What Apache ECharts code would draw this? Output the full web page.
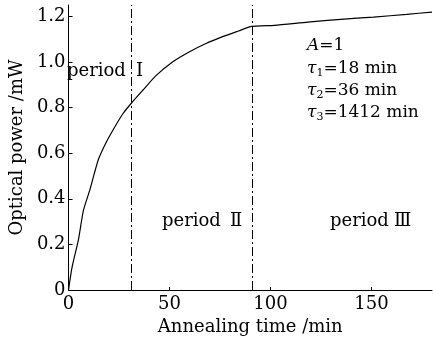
<!DOCTYPE html>
<html>
<head>
<meta charset="utf-8">
<script src="https://cdn.jsdelivr.net/npm/echarts@6/dist/echarts.min.js"></script>
<style>
  html, body { margin:0; padding:0; background:#fff; }
  #chart { width:433px; height:341px; }
</style>
</head>
<body>
<div id="chart"></div>
<script>
// 读图得到的曲线点（退火时间 /min，光功率 /mW）
const times = [0, 1.5, 2.5, 4.9, 7.4, 10.6, 14.7, 18.8, 22.9, 27, 31, 36.8, 43.3, 51.5, 59.7, 67.8, 76, 84.2, 90.7, 102, 118.5, 134.8, 151, 167.5, 180];
const power = [0, 0.088, 0.13, 0.22, 0.35, 0.44, 0.57, 0.65, 0.715, 0.774, 0.818, 0.876, 0.94, 1.0, 1.044, 1.08, 1.11, 1.136, 1.156, 1.161, 1.175, 1.187, 1.197, 1.209, 1.219];
const periodBounds = [31, 91];
const xTicks = [0, 50, 100, 150];
const yTicks = [0, 0.2, 0.4, 0.6, 0.8, 1.0, 1.2];

const FONT = '"DejaVu Serif", serif';
const chart = echarts.init(document.getElementById('chart'), null, { renderer: 'canvas' });

const rich = {
  i: { fontFamily: FONT, fontSize: 17, fontStyle: 'italic', color: '#000', lineHeight: 22 },
  n: { fontFamily: FONT, fontSize: 17, color: '#000', lineHeight: 22 },
  s: { fontFamily: FONT, fontSize: 11, color: '#000', lineHeight: 22, padding: [9, 0, 0, 0] }
};

// 区间标注文字
function label(text, x, y) {
  return { type: 'text', x, y, style: { text, font: '18px ' + FONT, fill: '#000', verticalAlign: 'middle' } };
}

const option = {
  animation: false,
  grid: { left: 65, right: 1, top: 5, bottom: 51 },
  xAxis: {
    type: 'value', min: 0, max: 180,
    name: 'Annealing time /min', nameLocation: 'middle', nameGap: 28,
    nameTextStyle: { fontFamily: FONT, fontSize: 18, color: '#000' },
    axisLine: { lineStyle: { color: '#000', width: 1 } },
    axisTick: { inside: true, length: 3, customValues: xTicks, lineStyle: { color: '#000' } },
    axisLabel: { customValues: xTicks, fontFamily: FONT, fontSize: 18, color: '#000', margin: 5 },
    splitLine: { show: false }
  },
  yAxis: {
    type: 'value', min: 0, max: 1.25,
    name: 'Optical power /mW', nameLocation: 'middle', nameGap: 42,
    nameTextStyle: { fontFamily: FONT, fontSize: 18, color: '#000' },
    axisLine: { show: true, lineStyle: { color: '#000', width: 1 } },
    axisTick: { show: true, inside: true, length: 4, customValues: yTicks, lineStyle: { color: '#000' } },
    axisLabel: {
      customValues: yTicks, fontFamily: FONT, fontSize: 18, color: '#000', margin: 3,
      formatter: v => v === 0 ? '0' : v.toFixed(1)
    },
    splitLine: { show: false }
  },
  series: [{
    type: 'line',
    data: times.map((t, i) => [t, power[i]]),
    showSymbol: false,
    smooth: 0.2,
    lineStyle: { color: '#000', width: 1.2 },
    markLine: {
      silent: true,
      symbol: ['none', 'none'],
      label: { show: false },
      lineStyle: { color: '#000', width: 1, type: [9, 3, 2, 3] },
      data: periodBounds.map(b => ({ xAxis: b }))
    }
  }],
  graphic: [
    label('period', 67, 71),
    label('Ⅰ', 136, 71),
    label('period', 162, 221),
    label('Ⅱ', 230, 221),
    label('period', 330, 221),
    label('Ⅲ', 394, 221),
    { type: 'text', left: 307, top: 37, style: { text: '{i|A}{n|=1}', rich } },
    { type: 'text', left: 307, top: 59, style: { text: '{i|τ}{s|1}{n|=18 min}', rich } },
    { type: 'text', left: 307, top: 81, style: { text: '{i|τ}{s|2}{n|=36 min}', rich } },
    { type: 'text', left: 307, top: 103, style: { text: '{i|τ}{s|3}{n|=1412 min}', rich } }
  ]
};
chart.setOption(option);
</script>
</body>
</html>
